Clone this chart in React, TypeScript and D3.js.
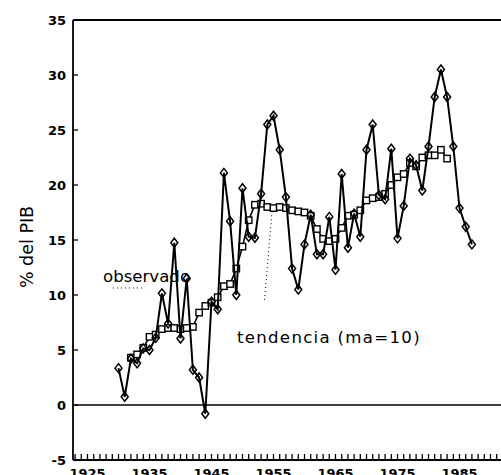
import React from 'react';
import * as d3 from 'd3';

// Observed series (% del PIB), one value per year starting 1930
const observedStartYear = 1930;
const observed = [
  3.35, 0.75, 4.2, 3.8, 5.15, 5.0, 6.1, 10.15, 7.4, 14.75,
  6.05, 11.5, 3.2, 2.5, -0.8, 9.4, 8.7, 21.1, 16.7, 10.0,
  19.7, 15.3, 15.2, 19.2, 25.5, 26.3, 23.2, 18.9, 12.4, 10.5,
  14.6, 17.3, 13.7, 13.7, 17.1, 12.3, 21.0, 14.3, 17.4, 15.3,
  23.2, 25.5, 19.1, 18.7, 23.3, 15.15, 18.1, 22.4, 21.8, 19.5,
  23.5, 28.0, 30.5, 28.0, 23.5, 17.9, 16.2, 14.6,
];

// Trend series (moving average, ma=10), one value per year starting 1932
const trendStartYear = 1932;
const trend = [
  4.3, 4.6, 5.2, 6.2, 6.4, 6.9, 7.0, 7.0, 6.9, 7.0,
  7.1, 8.4, 9.0, 9.3, 9.8, 10.8, 11.0, 12.4, 14.4, 16.8,
  18.2, 18.3, 18.0, 17.9, 18.0, 17.9, 17.7, 17.6, 17.5, 17.2,
  16.0, 15.1, 14.9, 15.1, 16.1, 17.2, 17.3, 17.7, 18.6, 18.8,
  18.9, 19.2, 20.0, 20.7, 21.0, 22.0, 21.7, 22.5, 22.7, 22.7,
  23.2, 22.4,
];

const yTicks = [-5, 0, 5, 10, 15, 20, 25, 30, 35];
const xTickLabels = [1925, 1935, 1945, 1955, 1965, 1975, 1985];
const minorTickYears = d3.range(1923, 1995);

const yLabel = '% del PIB';
const observedLabel = { text: 'observado', year: 1927.5, value: 11.2 };
const observedLeader = [[1929.1, 10.64], [1934.3, 10.64]];
const trendLabel = { text: 'tendencia (ma=10)', year: 1949.1, value: 5.64 };
const trendLeader = [[1953.55, 9.55], [1954.76, 17.55]];

const W = 501;
const H = 475;

export default function App() {
  const x = d3.scaleLinear().domain([1930, 1987]).range([118.5, 471.9]);
  const y = d3.scaleLinear().domain([-5, 35]).range([460, 20]);
  const xLeft = x(1922.66);
  const xRight = W + 20;

  const obsPts: [number, number][] = observed.map((v, i) => [x(observedStartYear + i), y(v)]);
  const trPts: [number, number][] = trend.map((v, i) => [x(trendStartYear + i), y(v)]);
  const line = d3.line<[number, number]>();

  const tickFont = "'DejaVu Sans', sans-serif";

  return (
    <div style={{ position: 'absolute', left: 0, top: 0 }}>
      <svg width={W} height={H} style={{ display: 'block', background: '#fff' }}>
        <rect x={0} y={0} width={W} height={H} fill="#fff" />

        {/* frame */}
        <line x1={xLeft} x2={xRight} y1={y(35)} y2={y(35)} stroke="#000" strokeWidth={1.8} />
        <line x1={xLeft} x2={xLeft} y1={y(35)} y2={y(-5)} stroke="#000" strokeWidth={1.8} />
        <line x1={xLeft} x2={xRight} y1={y(-5)} y2={y(-5)} stroke="#000" strokeWidth={1.8} />
        {/* zero line */}
        <line x1={xLeft} x2={xRight} y1={y(0)} y2={y(0)} stroke="#000" strokeWidth={1.3} />

        {/* y ticks */}
        {yTicks.map((t) => (
          <g key={t}>
            <line x1={xLeft} x2={xLeft + 5} y1={y(t)} y2={y(t)} stroke="#000" strokeWidth={1.3} />
            <text x={xLeft - 7} y={y(t)} dy="0.36em" textAnchor="end" fontFamily={tickFont}
              fontWeight="bold" fontSize={13}>{t}</text>
          </g>
        ))}

        {/* x minor ticks */}
        {minorTickYears.map((yr) => (
          <line key={yr} x1={x(yr)} x2={x(yr)} y1={y(-5)} y2={y(-5) - 6} stroke="#000" strokeWidth={1.3} />
        ))}
        {xTickLabels.map((t) => (
          <text key={t} x={x(t)} y={y(-5) + 17.5} textAnchor="middle" fontFamily={tickFont}
            fontWeight="bold" fontSize={13}>{t}</text>
        ))}

        {/* y label */}
        <text transform={`translate(33, ${247}) rotate(-90)`} textAnchor="middle"
          fontFamily={tickFont} fontSize={17.5}>{yLabel}</text>

        {/* annotations */}
        <text x={x(observedLabel.year)} y={y(observedLabel.value)} fontFamily={tickFont}
          fontSize={16.6}>{observedLabel.text}</text>
        <path d={line(observedLeader.map(([a, b]) => [x(a), y(b)]) as [number, number][]) || ''}
          stroke="#000" strokeWidth={1} strokeDasharray="1 3" fill="none" />
        <text x={x(trendLabel.year)} y={y(trendLabel.value)} fontFamily={tickFont}
          fontSize={16.6} letterSpacing={1.3}>{trendLabel.text}</text>
        <path d={line(trendLeader.map(([a, b]) => [x(a), y(b)]) as [number, number][]) || ''}
          stroke="#000" strokeWidth={1} strokeDasharray="1 3" fill="none" />

        {/* trend */}
        <path d={line(trPts) || ''} fill="none" stroke="#000" strokeWidth={1.6} />
        {trPts.map(([px, py], i) => (
          <rect key={i} x={px - 3.2} y={py - 3.2} width={6.4} height={6.4} fill="#fff"
            stroke="#000" strokeWidth={1.4} />
        ))}

        {/* observed */}
        <path d={line(obsPts) || ''} fill="none" stroke="#000" strokeWidth={2} />
        {obsPts.map(([px, py], i) => (
          <path key={i} d={`M${px},${py - 4.5}L${px + 3.5},${py}L${px},${py + 4.5}L${px - 3.5},${py}Z`}
            fill="none" stroke="#000" strokeWidth={1.5} />
        ))}
      </svg>
    </div>
  );
}
